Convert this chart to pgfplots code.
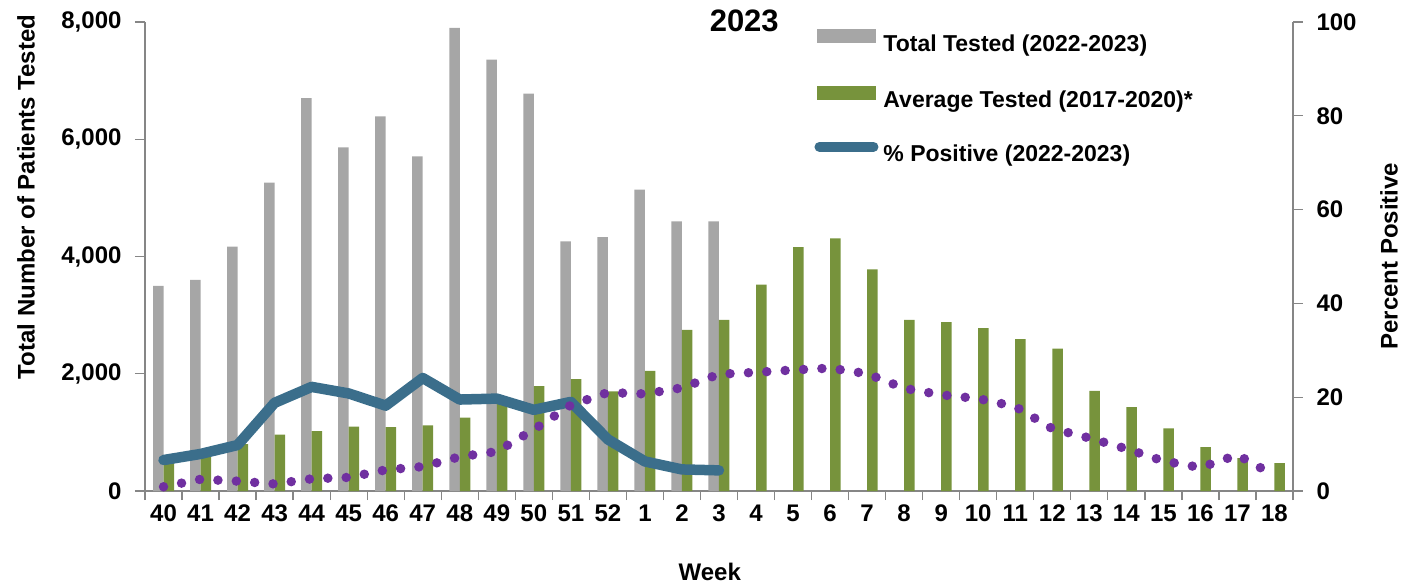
\documentclass[border=0pt]{standalone}
\usepackage{fontspec}
\setmainfont{Liberation Sans}
\usepackage{pgfplots}
\pgfplotsset{compat=1.18}
\definecolor{graybar}{HTML}{A6A6A6}
\definecolor{greenbar}{HTML}{77933C}
\definecolor{blueline}{HTML}{3B6E8B}
\definecolor{purpleline}{HTML}{7030A0}
\definecolor{axgray}{HTML}{868686}

\pgfplotstableread{
x total
0 3500
1 3600
2 4170
3 5260
4 6700
5 5860
6 6390
7 5710
8 7900
9 7360
10 6780
11 4260
12 4330
13 5140
14 4600
15 4600
}\totaltested

\pgfplotstableread{
x avg
0 500
1 600
2 800
3 960
4 1020
5 1100
6 1090
7 1120
8 1250
9 1490
10 1790
11 1910
12 1700
13 2050
14 2750
15 2920
16 3520
17 4160
18 4310
19 3780
20 2920
21 2880
22 2780
23 2590
24 2430
25 1710
26 1430
27 1070
28 750
29 560
30 475
}\avgtested

\pgfplotstableread{
x pos
0 6.6
1 7.9
2 9.8
3 18.8
4 22.2
5 20.8
6 18.2
7 24.1
8 19.5
9 19.7
10 17.3
11 19.0
12 11.0
13 6.3
14 4.6
15 4.4
}\pctpos

\pgfplotstableread{
x avgpos
0 0.9
1 2.5
2 2.1
3 1.5
4 2.6
5 2.9
6 4.5
7 5.2
8 7.3
9 8.4
10 13.1
11 18.3
12 21.0
13 20.7
14 22.0
15 24.9
16 25.3
17 25.8
18 26.2
19 25.0
20 21.9
21 20.5
22 19.7
23 18.0
24 13.3
25 11.3
26 9.0
27 6.4
28 5.0
29 7.7
30 3.3
}\avgpos

\begin{document}
\begin{tikzpicture}
\pgfplotsset{
  common/.style={
    scale only axis, width=1148pt, height=469pt,
    at={(0pt,0pt)}, anchor=south west,
    xmin=-0.5, xmax=30.5,
    axis line style={axgray, line width=1.3pt, -},
    tick style={axgray, line width=1.3pt},
    tick align=outside,
    major tick length=10pt,
    tick label style={font=\fontsize{24}{28}\selectfont\bfseries, black},
    label style={font=\fontsize{24}{28}\selectfont\bfseries, black},
    /pgf/number format/assume math mode=true,
    /pgf/number format/.cd, 1000 sep={,}, /pgfplots/.cd,
    clip=false,
  }
}
\begin{axis}[common,
  ymin=0, ymax=8000,
  axis x line*=bottom, axis y line*=left,
  scaled y ticks=false,
  ytick={0,2000,4000,6000,8000},
  xtick={0,...,30},
  xticklabels={40,41,42,43,44,45,46,47,48,49,50,51,52,1,2,3,4,5,6,7,8,9,10,11,12,13,14,15,16,17,18},
  major x tick style={draw=none},
  minor xtick={-0.5,0.5,...,30.5},
  minor x tick style={axgray, line width=1.3pt},
  minor tick length=9pt,
  ybar=0pt, bar width=10.5pt,
  yticklabel style={xshift=-10pt},
  ylabel={Total Number of Patients Tested},
  ylabel style={at={(axis description cs:-0.1037,0.627)}, anchor=center},
  xlabel={Week},
  xlabel style={at={(axis description cs:0.492,-0.173)}, anchor=center},
  title={2023},
  title style={at={(axis description cs:0.522,0.99)}, anchor=center, font=\fontsize{31}{36}\selectfont\bfseries},
]
\addplot[fill=graybar, draw=none] table[x=x, y=total] {\totaltested};
\addplot[fill=greenbar, draw=none] table[x=x, y=avg] {\avgtested};
\end{axis}
\begin{axis}[common,
  ymin=0, ymax=100,
  axis y line*=right, axis x line=none,
  ytick={0,20,40,60,80,100},
  yticklabel style={xshift=10pt},
  ylabel={Percent Positive},
  ylabel style={at={(axis description cs:1.0836,0.501)}, anchor=center, rotate=0},
  legend style={draw=none, fill=none, at={(axis description cs:0.583,0.985)}, anchor=north west,
    font=\fontsize{23}{27}\selectfont\bfseries, row sep=31pt, column sep=3pt, inner sep=0pt},
  legend cell align=left,
]
\addlegendimage{legend image code/.code={\fill[graybar] (0pt,1pt) rectangle (58pt,14pt);}}
\addlegendentry{Total Tested (2022-2023)}
\addlegendimage{legend image code/.code={\fill[greenbar] (0pt,1pt) rectangle (58pt,14pt);}}
\addlegendentry{Average Tested (2017-2020)*}
\addplot[blueline, line width=10.5pt, line join=round, line cap=round,
  legend image code/.code={\draw[blueline, line width=10pt, line cap=round] (2pt,7pt) -- (56pt,7pt);}]
  table[x=x, y=pos] {\pctpos};
\addlegendentry{\% Positive (2022-2023)}
\addplot[purpleline, line width=9.5pt, line cap=round, dash pattern=on 0pt off 18.4pt, forget plot]
  table[x=x, y=avgpos] {\avgpos};
\end{axis}
\pgfresetboundingbox
\path (-145pt,-96pt) rectangle (1256pt,491pt);
\end{tikzpicture}
\end{document}
